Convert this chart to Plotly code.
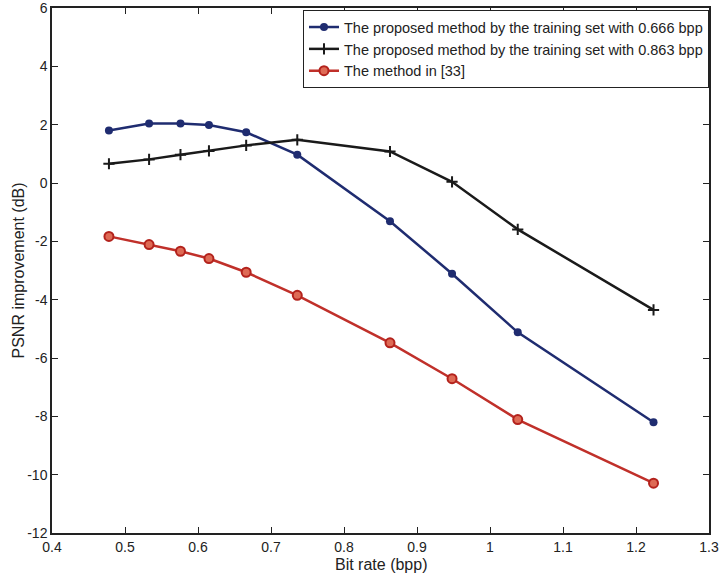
import plotly.graph_objects as go

bit_rate = [0.478, 0.533, 0.576, 0.615, 0.666, 0.736, 0.863, 0.948, 1.038, 1.224]
proposed_0666 = [1.80, 2.04, 2.04, 1.99, 1.74, 0.97, -1.31, -3.11, -5.12, -8.20]
proposed_0863 = [0.66, 0.81, 0.97, 1.10, 1.29, 1.48, 1.08, 0.04, -1.59, -4.35]
method_33 = [-1.83, -2.11, -2.34, -2.59, -3.06, -3.85, -5.48, -6.71, -8.11, -10.29]

names = [
    "The proposed method by the training set with 0.666 bpp",
    "The proposed method by the training set with 0.863 bpp",
    "The method in [33]",
]

x_ticks = [0.4, 0.5, 0.6, 0.7, 0.8, 0.9, 1.0, 1.1, 1.2, 1.3]
x_tick_text = ["0.4", "0.5", "0.6", "0.7", "0.8", "0.9", "1", "1.1", "1.2", "1.3"]
y_ticks = [-12, -10, -8, -6, -4, -2, 0, 2, 4, 6]
y_tick_text = ["-12", "-10", "-8", "-6", "-4", "-2", "0", "2", "4", "6"]

x_title = "Bit rate (bpp)"
y_title = "PSNR improvement (dB)"

FONT = "Liberation Sans, Arial, sans-serif"

fig = go.Figure()
fig.add_trace(go.Scatter(
    x=bit_rate, y=proposed_0666, name=names[0], mode="lines+markers",
    line=dict(color="#1f2c70", width=2.5),
    marker=dict(symbol="circle", size=8, color="#1f2c70"),
))
fig.add_trace(go.Scatter(
    x=bit_rate, y=proposed_0863, name=names[1], mode="lines+markers",
    line=dict(color="#1a1a1a", width=2.5),
    marker=dict(symbol="cross-thin", size=8, line=dict(color="#1a1a1a", width=2)),
))
fig.add_trace(go.Scatter(
    x=bit_rate, y=method_33, name=names[2], mode="lines+markers",
    line=dict(color="#c0302a", width=2.5),
    marker=dict(symbol="circle", size=9, color="#de6a55", line=dict(color="#b3221c", width=2)),
))

axis_common = dict(
    showgrid=False, zeroline=False, showline=True, linecolor="#222", linewidth=1.5,
    mirror="ticks", ticks="inside", ticklen=6, tickcolor="#222", tickwidth=1,
    tickfont=dict(family=FONT, size=14, color="#222"),
    automargin=False, ticklabeloverflow="allow",
)

fig.update_layout(
    width=719, height=576,
    margin=dict(l=52, r=10, t=8, b=43),
    paper_bgcolor="white", plot_bgcolor="white",
    showlegend=True,
    legend=dict(
        x=1, xanchor="right", y=0.996, yanchor="top",
        bgcolor="white", bordercolor="#222", borderwidth=1,
        font=dict(family=FONT, size=14.5, color="#222"),
        tracegroupgap=0, itemwidth=30,
    ),
    xaxis=dict(range=[0.4, 1.3], tickvals=x_ticks, ticktext=x_tick_text, **axis_common),
    yaxis=dict(range=[-12, 6], tickvals=y_ticks, ticktext=y_tick_text, **axis_common),
    annotations=[
        dict(text=x_title, xref="paper", yref="paper", x=0.5, y=0, xanchor="center",
             yanchor="middle", yshift=-31, showarrow=False,
             font=dict(family=FONT, size=16, color="#222")),
        dict(text=y_title, xref="paper", yref="paper", x=0, y=0.5, xanchor="center",
             yanchor="middle", xshift=-34, textangle=-90, showarrow=False,
             font=dict(family=FONT, size=16, color="#222")),
    ],
)

fig.write_html("out.html")
